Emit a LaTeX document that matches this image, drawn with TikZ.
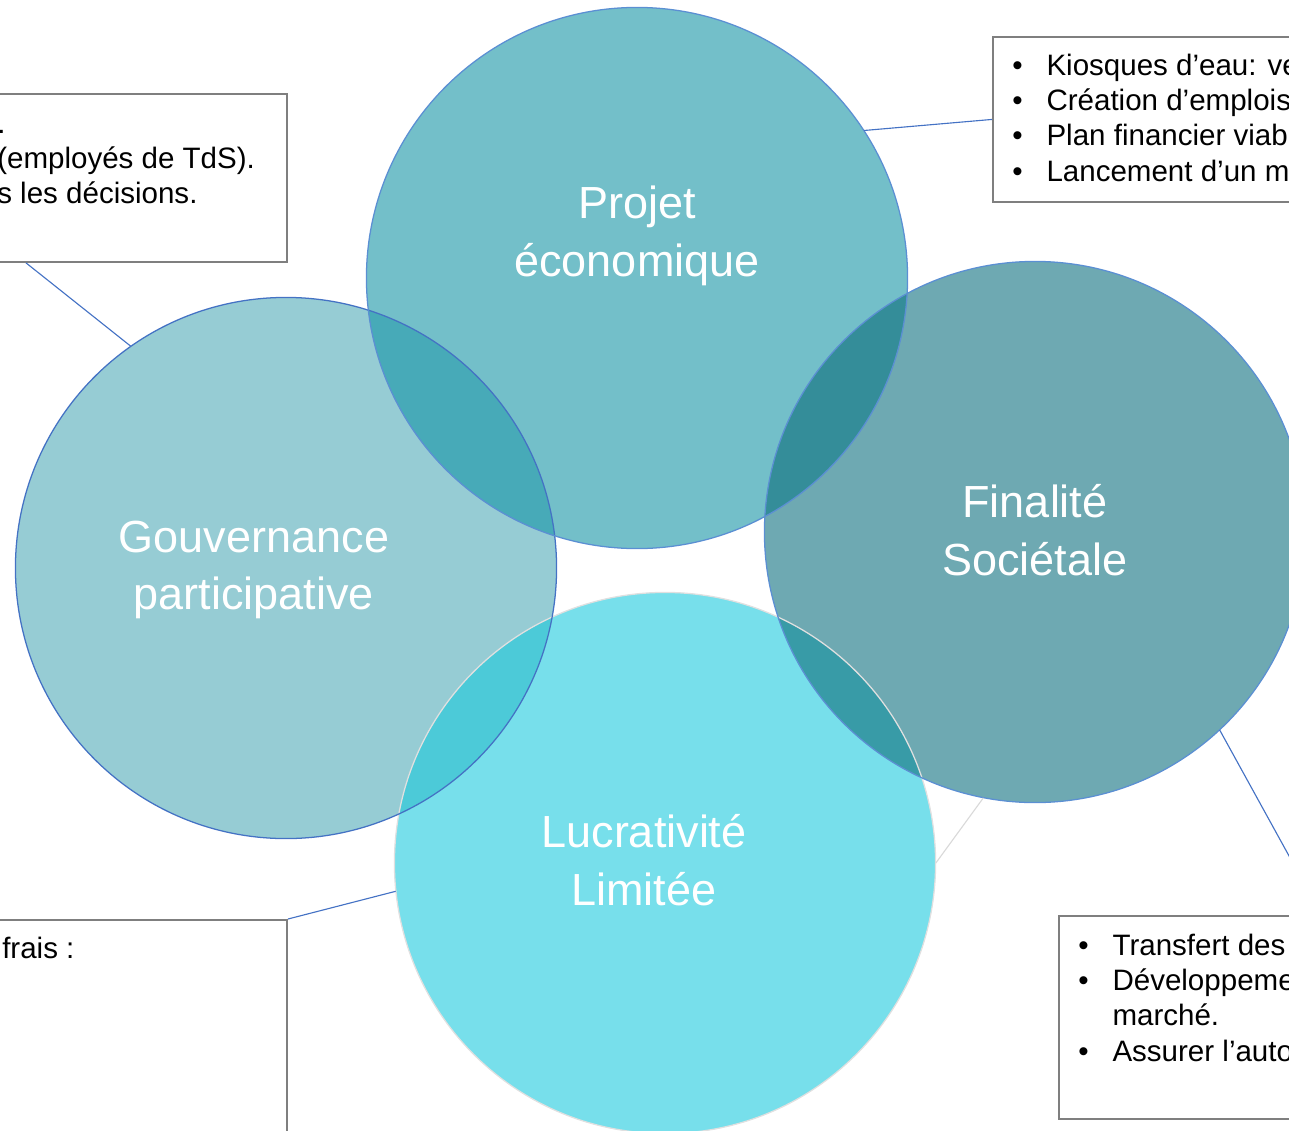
\documentclass[tikz,border=0pt]{standalone}
\usepackage{fontspec}
\setmainfont{Liberation Sans}
\usepackage{tikz}
\usetikzlibrary{calc,positioning,shapes}

\definecolor{projcol}{HTML}{73BFC9}
\definecolor{gouvcol}{HTML}{96CCD4}
\definecolor{fincol}{HTML}{6EA9B2}
\definecolor{luccol}{HTML}{77DFEB}
\definecolor{pgcol}{HTML}{47AAB8}
\definecolor{pfcol}{HTML}{348D99}
\definecolor{glcol}{HTML}{4CCAD8}
\definecolor{flcol}{HTML}{389BA7}
\definecolor{linkblue}{HTML}{4472C4}
\definecolor{ringblue}{HTML}{5B8FD3}
\definecolor{boxgrey}{HTML}{7F7F7F}

\tikzstyle{disc}      = [circle, inner sep=0pt, minimum size=13.525cm]
\tikzstyle{ring}      = [line width=0.9pt]
\tikzstyle{disclabel} = [text=white, align=center, inner sep=0pt, font=\fontsize{32}{41}\selectfont]
\tikzstyle{box}       = [draw=boxgrey, line width=1.3pt, inner sep=0pt]
\tikzstyle{boxtext}   = [anchor=base west, inner sep=0pt, font=\fontsize{21}{25.2}\selectfont]
\tikzstyle{link}      = [draw=linkblue, line width=0.8pt]
\tikzstyle{faint}     = [draw=black!15, line width=0.8pt]

\begin{document}
\begin{tikzpicture}[x=0.025cm, y=-0.025cm]
        \useasboundingbox (0,0) rectangle (1289,1131);
        \clip (0,0) rectangle (1289,1131);

        \node[disc, fill=gouvcol] (gouv) at (286,568) {};
        \node[disc, fill=projcol] (proj) at (637,278) {};
        \node[disc, fill=luccol] (luc) at (665,863) {};
        \node[disc, fill=fincol] (fin) at (1035,532) {};

        \begin{scope}
            \clip (proj.center) circle[radius=6.7625cm];
            \fill[pgcol] (gouv.center) circle[radius=6.7625cm];
            \fill[pfcol] (fin.center) circle[radius=6.7625cm];
        \end{scope}
        \begin{scope}
            \clip (luc.center) circle[radius=6.7625cm];
            \fill[glcol] (gouv.center) circle[radius=6.7625cm];
            \fill[flcol] (fin.center) circle[radius=6.7625cm];
        \end{scope}

        \draw[ring, black!12] (luc.center) circle[radius=6.7625cm];
        \draw[ring, linkblue] (gouv.center) circle[radius=6.7625cm];
        \draw[ring, ringblue] (proj.center) circle[radius=6.7625cm];
        \draw[ring, ringblue] (fin.center) circle[radius=6.7625cm];

        \node[disclabel] (projlabel) at (637,236) {Projet\\économique};
        \node[disclabel] (gouvlabel) at (254,570) {Gouvernance\\participative};
        \node[disclabel] (finlabel) at (1035,530) {Finalité\\Sociétale};
        \node[disclabel] (luclabel) at (644,860) {Lucrativité\\Limitée};

        \node[box, minimum width=14.7cm, minimum height=4.2cm, anchor=north east] (tlbox) at (288,93) {};
        \node[box, minimum width=10.2cm, minimum height=4.125cm, anchor=north west] (trbox) at (992,36) {};
        \node[box, minimum width=10cm, minimum height=5.075cm, anchor=north west] (brbox) at (1058,915) {};
        \node[box, minimum width=14.7cm, minimum height=9.525cm, anchor=north east] (blbox) at (288,919) {};

        \node[boxtext] (tltext) at ($(tlbox.north east)+(-291,40)$)
            {\begin{tabular}[t]{@{}l@{}}.\\(employés de TdS).\\s les décisions.\end{tabular}};
        \node[boxtext] (trtext) at ($(trbox.north west)+(20,39)$)
            {\begin{tabular}[t]{@{}l@{\hspace{17pt}}l@{}}\textbullet & Kiosques d’eau: ve\\\textbullet & Création d’emplois\\\textbullet & Plan financier viab\\\textbullet & Lancement d’un m\end{tabular}};
        \node[boxtext] (brtext) at ($(brbox.north west)+(20,40)$)
            {\begin{tabular}[t]{@{}l@{\hspace{17pt}}l@{}}\textbullet & Transfert des\\\textbullet & Développeme\\ & marché.\\\textbullet & Assurer l’auto\end{tabular}};
        \node[boxtext] (bltext) at ($(blbox.north east)+(-286,39)$) {frais :};

        \coordinate (brtip) at (1310,894);
        \draw[link] (gouv.125) -- ($(tlbox.south east)+(-262,0)$);
        \draw[link] (proj.33) -- (trbox.west);
        \draw[link] (fin.-47) -- (brtip);
        \draw[link] (blbox.north east) -- (luc.186);
        \draw[faint] (luc.0) -- (fin.259);
\end{tikzpicture}
\end{document}
